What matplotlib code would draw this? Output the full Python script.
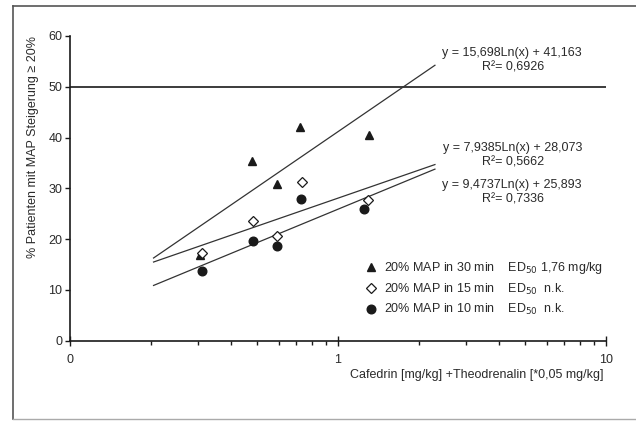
import matplotlib
matplotlib.use("Agg")
import matplotlib.pyplot as plt
import numpy as np
from matplotlib.lines import Line2D

plt.rcParams["font.family"] = ["Liberation Sans", "DejaVu Sans"]

# dose (log scale) and response values
dose_30 = [0.305, 0.479, 0.592, 0.723, 1.306]
resp_30 = [16.9, 35.3, 30.9, 42.1, 40.6]
dose_15 = [0.312, 0.48, 0.59, 0.736, 1.29]
resp_15 = [17.3, 23.6, 20.7, 31.3, 27.7]
dose_10 = [0.312, 0.48, 0.59, 0.73, 1.25]
resp_10 = [13.8, 19.7, 18.6, 27.9, 26.0]

# logarithmic trend lines y = a*ln(x) + b as printed in the chart
trend_30 = (15.698, 41.163, "0,6926")
trend_15 = (7.9385, 28.073, "0,5662")
trend_10 = (9.4737, 25.893, "0,7336")
trend_range = (0.205, 2.3)

threshold = 50
x_ticks = [0.1, 1, 10]
x_ticklabels = ["0", "1", "10"]
y_ticks = [0, 10, 20, 30, 40, 50, 60]

ink = "#1a1a1a"
text_col = "#2a2a2a"
fs = 9

fig = plt.figure(figsize=(6.36, 4.21), dpi=100)
ax = fig.add_axes([70 / 636, 1 - 340.7 / 421, 536 / 636, 304.7 / 421])

# outer frame of the scanned figure
fig.add_artist(Line2D([13 / 636, 13 / 636], [1 - 419 / 421, 1 - 6 / 421], transform=fig.transFigure, color="#555555", lw=1.2))
fig.add_artist(Line2D([13 / 636, 1.0], [1 - 6 / 421, 1 - 6 / 421], transform=fig.transFigure, color="#555555", lw=1.2))
fig.add_artist(Line2D([13 / 636, 1.0], [1 - 419 / 421, 1 - 419 / 421], transform=fig.transFigure, color="#aaaaaa", lw=1.0))

ax.set_xscale("log")
ax.set_xlim(0.1, 10)
ax.set_ylim(0, 60)

ax.axhline(threshold, color=ink, lw=1.2, zorder=1)

xs = np.geomspace(*trend_range, 50)
for a, b, _ in (trend_30, trend_15, trend_10):
    ax.plot(xs, a * np.log(xs) + b, color="#333333", lw=0.9, zorder=2)

ax.plot(dose_30, resp_30, ls="none", marker="^", ms=5.8, color=ink, zorder=3)
ax.plot(dose_15, resp_15, ls="none", marker="D", ms=4.8, mfc="white", mec=ink, mew=0.9, zorder=3)
ax.plot(dose_10, resp_10, ls="none", marker="o", ms=6.2, color=ink, zorder=3)

for side in ("top", "right"):
    ax.spines[side].set_visible(False)
for side in ("left", "bottom"):
    ax.spines[side].set_color(ink)
    ax.spines[side].set_linewidth(1.2)

ax.set_xticks(x_ticks)
ax.set_xticklabels(x_ticklabels)
ax.set_yticks(y_ticks)
ax.tick_params(axis="x", which="major", direction="inout", length=7, width=1.0, color=ink, pad=6, labelsize=fs, labelcolor=text_col)
ax.tick_params(axis="x", which="minor", direction="out", length=3, width=1.0, color=ink)
ax.tick_params(axis="y", direction="out", length=3.5, width=1.0, color=ink, pad=2, labelsize=fs, labelcolor=text_col)

# equations
for (a, b, r2), yf in ((trend_30, 0.944), (trend_15, 0.632), (trend_10, 0.511)):
    a_s = f"{a:g}".replace(".", ",")
    b_s = f"{b:.3f}".replace(".", ",")
    ax.text(0.825, yf, f"y = {a_s}Ln(x) + {b_s}", transform=ax.transAxes, ha="center", va="center", fontsize=fs, color=text_col)
    ax.text(0.826, yf - 0.046, f"R²= {r2}", transform=ax.transAxes, ha="center", va="center", fontsize=fs, color=text_col)

handles = [
    Line2D([], [], ls="none", marker="^", ms=5.8, color=ink),
    Line2D([], [], ls="none", marker="D", ms=4.8, mfc="white", mec=ink, mew=0.9),
    Line2D([], [], ls="none", marker="o", ms=6.2, color=ink),
]
labels = [
    "20% MAP in 30 min    ED$_{50}$ 1,76 mg/kg",
    "20% MAP in 15 min    ED$_{50}$  n.k.",
    "20% MAP in 10 min    ED$_{50}$  n.k.",
]
ax.legend(handles, labels, loc="upper left", bbox_to_anchor=(0.55, 0.265), frameon=False,
          handlelength=1.0, handletextpad=0.5, labelspacing=0.45, borderpad=0, borderaxespad=0,
          fontsize=fs, labelcolor=text_col)

fig.text(33 / 636, 1 - 147 / 421, "% Patienten mit MAP Steigerung ≥ 20%", rotation=90,
         ha="center", va="center", fontsize=fs, color=text_col)
fig.text(603 / 636, 1 - 375 / 421, "Cafedrin [mg/kg] +Theodrenalin [*0,05 mg/kg]",
         ha="right", va="center", fontsize=fs, color=text_col)

fig.savefig("out.png", dpi=100)
